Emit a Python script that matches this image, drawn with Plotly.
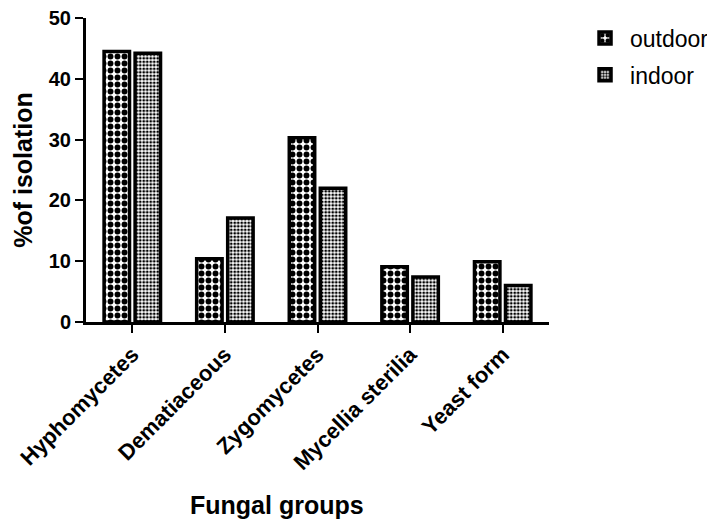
import plotly.graph_objects as go

categories = ["Hyphomycetes", "Dematiaceous", "Zygomycetes", "Mycellia sterilia", "Yeast form"]
outdoor = [44.5, 10.4, 30.3, 9.1, 9.9]
indoor = [44.2, 17.1, 22.0, 7.4, 6.0]
y_ticks = [0, 10, 20, 30, 40, 50]

fig = go.Figure()
fig.add_trace(go.Bar(
    x=categories, y=outdoor, name="outdoor", legendgroup="a",
    marker=dict(color="white", line=dict(color="black", width=3.5),
                pattern=dict(shape=".", fgcolor="black", bgcolor="white",
                             size=7, solidity=0.55, fillmode="replace")),
))
fig.add_trace(go.Bar(
    x=categories, y=indoor, name="indoor", legendgroup="b",
    marker=dict(color="white", line=dict(color="black", width=3.5),
                pattern=dict(shape=".", fgcolor="black", bgcolor="white",
                             size=3.5, solidity=0.5, fillmode="replace")),
))

fig.update_layout(
    width=715, height=526,
    margin=dict(l=78, r=174, t=10, b=212, autoexpand=False),
    paper_bgcolor="white", plot_bgcolor="white",
    barmode="group", bargap=0.33, bargroupgap=0.18,
    font=dict(family="Liberation Sans, Arial", color="black"),
    legend=dict(x=1.067, y=1.005, xanchor="left", yanchor="top",
                font=dict(size=23), tracegroupgap=4, itemwidth=40),
    xaxis=dict(
        range=[-0.5, 4.5], showline=True, linecolor="black", linewidth=3,
        ticks="outside", ticklen=8, tickwidth=2, tickcolor="black",
        tickangle=-45, tickfont=dict(size=22, weight="bold"),
        showgrid=False, automargin=False, ticklabeloverflow="allow",
    ),
    yaxis=dict(
        range=[0, 50], tickvals=y_ticks, showline=True, linecolor="black", linewidth=3,
        ticks="outside", ticklen=8, tickwidth=2, tickcolor="black",
        tickfont=dict(size=20, weight="bold"), ticklabeloverflow="allow",
        title=dict(text="<b>%of isolation</b>", font=dict(size=25), standoff=10),
        showgrid=False, zeroline=False, automargin=False,
    ),
    annotations=[dict(
        text="<b>Fungal groups</b>", xref="paper", yref="paper",
        x=0.4125, y=-0.601, xanchor="center", yanchor="middle",
        showarrow=False, font=dict(size=25, color="black"),
    )],
)

fig.write_html("out.html")
